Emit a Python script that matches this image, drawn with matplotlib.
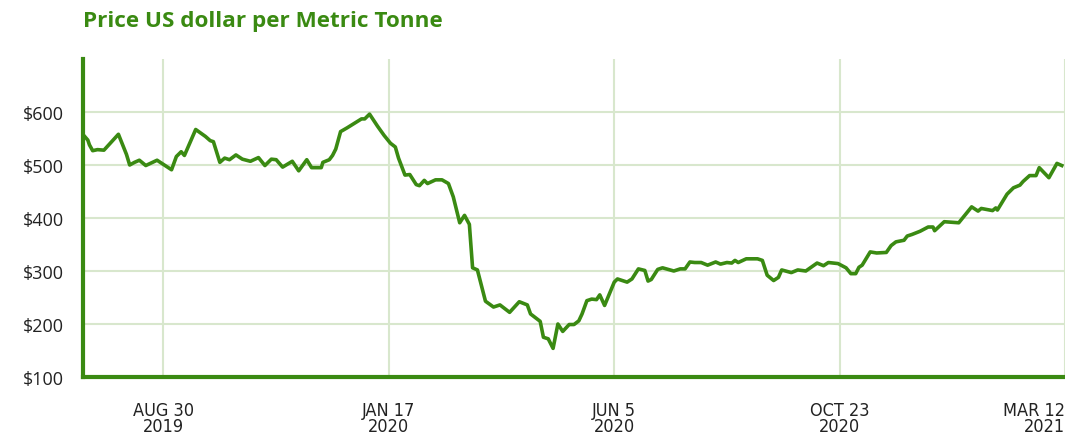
import numpy as np
import pandas as pd
import matplotlib
matplotlib.use("Agg")
import matplotlib.pyplot as plt

# price series, days counted from 30 Aug 2019
base_date = "2019-08-30"
day_offsets = [-49, -47, -46, -44, -41, -37, -28, -25, -23, -21, -18, -15, -11, -4,
               5, 8, 11, 13, 20, 26, 29, 31, 35, 38, 41, 45, 49, 54, 59, 63, 67, 70,
               74, 80, 84, 89, 92, 98, 99, 103, 105, 107, 110, 114, 123, 125, 128,
               133, 137, 141, 144, 146, 150, 153, 157, 159, 162, 164, 169, 173, 177,
               180, 184, 187, 190, 192, 195, 200, 205, 209, 215, 221, 226, 228, 234,
               236, 239, 242, 245, 248, 252, 255, 258, 260, 263, 266, 269, 271, 274,
               280, 282, 288, 291, 295, 299, 301, 303, 307, 310, 317, 321, 324, 327,
               330, 334, 338, 343, 346, 350, 353, 355, 357, 362, 369, 372, 375, 379,
               382, 384, 390, 394, 399, 406, 410, 413, 419, 424, 427, 430, 432, 434,
               439, 443, 449, 452, 455, 460, 462, 465, 470, 475, 478, 479, 485, 494,
               502, 506, 508, 515, 517, 518, 524, 528, 532, 534, 538, 542, 544, 550,
               555, 558]
prices = [554, 547, 538, 527, 529, 528, 558, 535, 520, 500, 505, 509, 499, 509,
          491, 516, 525, 518, 567, 554, 546, 544, 505, 513, 510, 519, 511, 507, 514, 499, 511, 510,
          496, 507, 489, 510, 495, 495, 505, 510, 518, 530, 563, 570, 587, 587, 596,
          573, 556, 541, 534, 513, 481, 482, 463, 461, 471, 465, 472, 472, 465,
          440, 391, 405, 388, 306, 302, 243, 232, 236, 222, 242, 236, 219, 205,
          175, 172, 154, 200, 186, 199, 199, 206, 219, 244, 247, 246, 255, 235,
          279, 285, 279, 285, 304, 301, 281, 284, 303, 306, 300, 304, 304, 317,
          316, 316, 311, 317, 313, 316, 315, 320, 316, 323, 323, 320, 292, 282,
          288, 302, 297, 302, 300, 315, 310, 316, 314, 306, 295, 295, 307, 311,
          336, 334, 335, 348, 355, 358, 366, 369, 375, 383, 383, 376, 393, 391,
          421, 413, 418, 414, 419, 415, 445, 457, 462, 469, 480, 480, 495, 476,
          503, 499]

tick_dates = ["2019-08-30", "2020-01-17", "2020-06-05", "2020-10-23", "2021-03-12"]
tick_labels = ["AUG 30\n2019", "JAN 17\n2020", "JUN 5\n2020", "OCT 23\n2020", "MAR 12\n2021"]
y_ticks = [100, 200, 300, 400, 500, 600]

green = "#3a8a12"
grid_col = "#d8e7cd"

dates = pd.Timestamp(base_date) + pd.to_timedelta(day_offsets, unit="D")

fig = plt.figure(figsize=(10.65, 4.35), dpi=100)
ax = fig.add_axes([83 / 1065, 1 - 378 / 435, 1 - 83 / 1065, (378 - 60) / 435])

ax.plot(dates, prices, color=green, lw=2.6, solid_joinstyle="round", zorder=3)

ax.set_xlim(pd.Timestamp("2019-07-11"), pd.Timestamp("2021-03-12"))
ax.set_ylim(100, 700)

ax.set_xticks(pd.to_datetime(tick_dates))
ax.set_xticklabels(tick_labels, family="DejaVu Sans", stretch="condensed",
                   fontsize=13, color="#222222", linespacing=0.92)
ax.get_xticklabels()[-1].set_ha("right")
ax.set_yticks(y_ticks)
ax.set_yticklabels(["$%d" % v for v in y_ticks], family=["Open Sans", "DejaVu Sans"],
                   fontsize=13, color="#222222")
ax.tick_params(axis="both", length=0)
ax.tick_params(axis="x", pad=17)
ax.tick_params(axis="y", pad=14)

ax.grid(True, color=grid_col, lw=1.5, zorder=0)
for s in ["top", "right"]:
    ax.spines[s].set_visible(False)
for s in ["left", "bottom"]:
    ax.spines[s].set_color(green)
    ax.spines[s].set_linewidth(3)

fig.text(83 / 1065, 1 - 22 / 435, "Price US dollar per Metric Tonne", color=green,
         fontsize=16.2, fontweight="bold", family=["Open Sans", "DejaVu Sans"], va="center")

fig.savefig("out.png", dpi=100)
